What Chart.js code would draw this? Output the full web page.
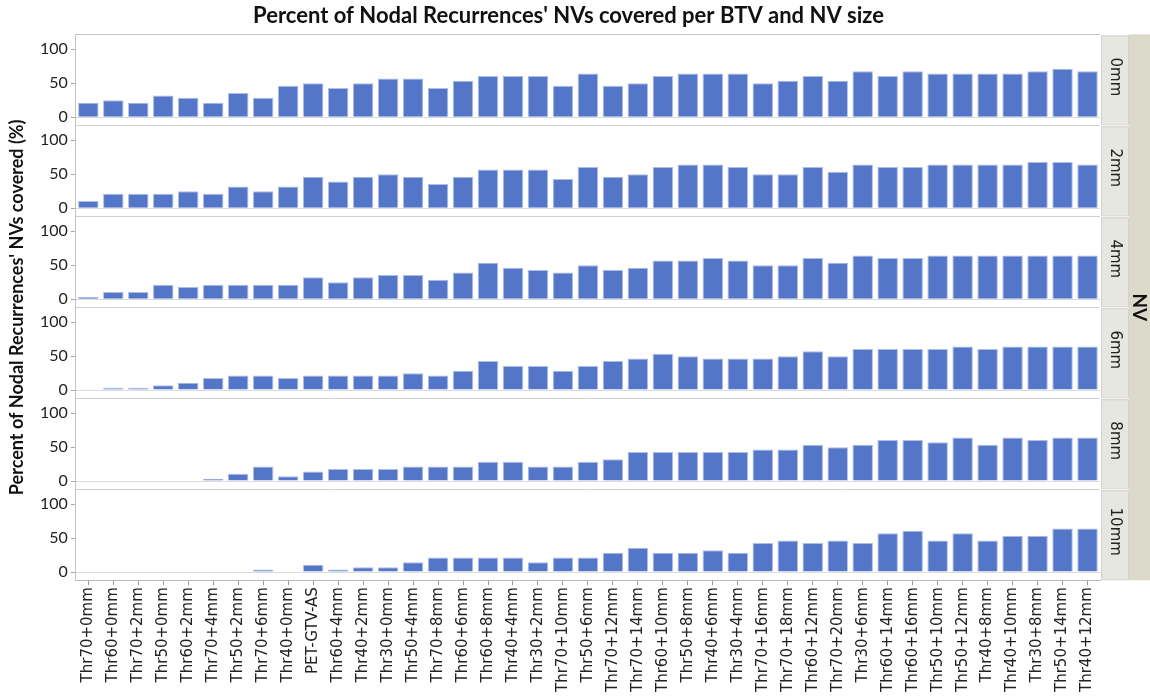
<!DOCTYPE html>
<html>
<head>
<meta charset="utf-8">
<script src="https://cdn.jsdelivr.net/npm/chart.js@4/dist/chart.umd.min.js"></script>
<style>
html,body{margin:0;padding:0;background:#fff;}
#wrap{width:1150px;height:696px;position:relative;}
</style>
</head>
<body>
<div id="wrap"><canvas id="c"></canvas></div>
<script>
const categories = ["Thr70+0mm","Thr60+0mm","Thr70+2mm","Thr50+0mm","Thr60+2mm","Thr70+4mm","Thr50+2mm","Thr70+6mm","Thr40+0mm","PET-GTV-AS","Thr60+4mm","Thr40+2mm","Thr30+0mm","Thr50+4mm","Thr70+8mm","Thr60+6mm","Thr60+8mm","Thr40+4mm","Thr30+2mm","Thr70+10mm","Thr50+6mm","Thr70+12mm","Thr70+14mm","Thr60+10mm","Thr50+8mm","Thr40+6mm","Thr30+4mm","Thr70+16mm","Thr70+18mm","Thr60+12mm","Thr70+20mm","Thr30+6mm","Thr60+14mm","Thr60+16mm","Thr50+10mm","Thr50+12mm","Thr40+8mm","Thr40+10mm","Thr30+8mm","Thr50+14mm","Thr40+12mm"];
const panels = ["0mm","2mm","4mm","6mm","8mm","10mm"];
const nv0mm = [21.4,25,21.4,32.1,28.6,21.4,35.7,28.6,46.4,50,42.9,50,57.1,57.1,42.9,53.6,60.7,60.7,60.7,46.4,64.3,46.4,50,60.7,64.3,64.3,64.3,50,53.6,60.7,53.6,67.9,60.7,67.9,64.3,64.3,64.3,64.3,67.9,71.4,67.9];
const nv2mm = [10.7,21.4,21.4,21.4,25,21.4,32.1,25,32.1,46.4,39.3,46.4,50,46.4,35.7,46.4,57.1,57.1,57.1,42.9,60.7,46.4,50,60.7,64.3,64.3,60.7,50,50,60.7,53.6,64.3,60.7,60.7,64.3,64.3,64.3,64.3,67.9,67.9,64.3];
const nv4mm = [3.6,10.7,10.7,21.4,17.9,21.4,21.4,21.4,21.4,32.1,25,32.1,35.7,35.7,28.6,39.3,53.6,46.4,42.9,39.3,50,42.9,46.4,57.1,57.1,60.7,57.1,50,50,60.7,53.6,64.3,60.7,60.7,64.3,64.3,64.3,64.3,64.3,64.3,64.3];
const nv6mm = [0,3.6,3.6,7.1,10.7,17.9,21.4,21.4,17.9,21.4,21.4,21.4,21.4,25,21.4,28.6,42.9,35.7,35.7,28.6,35.7,42.9,46.4,53.6,50,46.4,46.4,46.4,50,57.1,50,60.7,60.7,60.7,60.7,64.3,60.7,64.3,64.3,64.3,64.3];
const nv8mm = [0,0,0,0,0,3.6,10.7,21.4,7.1,14.3,17.9,17.9,17.9,21.4,21.4,21.4,28.6,28.6,21.4,21.4,28.6,32.1,42.9,42.9,42.9,42.9,42.9,46.4,46.4,53.6,50,53.6,60.7,60.7,57.1,64.3,53.6,64.3,60.7,64.3,64.3];
const nv10mm = [0,0,0,0,0,0,0,3.6,0,10.7,3.6,7.1,7.1,14.3,21.4,21.4,21.4,21.4,14.3,21.4,21.4,28.6,35.7,28.6,28.6,32.1,28.6,42.9,46.4,42.9,46.4,42.9,57.1,60.7,46.4,57.1,46.4,53.6,53.6,64.3,64.3];
const yTicks = [0,25,50,75,100];
const yLabels = [0,50,100];
const titleText = "Percent of Nodal Recurrences' NVs covered per BTV and NV size";
const yTitleText = "Percent of Nodal Recurrences' NVs covered (%)";
const stripTitle = "NV";

const series = [nv0mm,nv2mm,nv4mm,nv6mm,nv8mm,nv10mm];

const datasets = series.map((d,i)=>({
  label: panels[i],
  data: d,
  yAxisID: 'y'+i,
  grouped: false,
  backgroundColor: '#5476c8',
  borderColor: '#aebde8',
  borderWidth: 1,
  barPercentage: 0.82,
  categoryPercentage: 1.0
}));

const scales = {
  x: {
    type: 'category',
    offset: true,
    grid: {drawOnChartArea: false, offset: false, tickLength: 5, color: '#999', tickColor:'#999'},
    border: {color: '#bbb'},
    ticks: {
      autoSkip: false, maxRotation: 90, minRotation: 90, padding: 2,
      color: '#222', font: {family: 'DejaVu Sans', size: 15}
    }
  }
};
for (let i = panels.length - 1; i >= 0; i--) {
  scales['y'+i] = {
    type: 'linear',
    position: 'left',
    stack: 'nv',
    stackWeight: 1,
    min: -12,
    max: 122,
    afterBuildTicks: ax => { ax.ticks = yTicks.map(v => ({value: v})); },
    ticks: {
      color: '#222', padding: 3,
      font: {family: 'Lato', size: 16},
      callback: v => yLabels.includes(v) ? String(v) : ''
    },
    grid: {
      drawOnChartArea: true,
      color: c => (c.tick && c.tick.value === 0) ? '#dcdcdc' : 'rgba(0,0,0,0)',
      tickColor: '#aaa',
      tickLength: 5
    },
    border: {color: '#c4c4c4'}
  };
}

const decor = {
  id: 'decor',
  beforeDatasetsDraw(chart) {
    const {ctx, chartArea: a} = chart;
    ctx.save();
    ctx.strokeStyle = '#cfcfcf';
    ctx.lineWidth = 1;
    panels.forEach((p,i) => {
      const ax = chart.scales['y'+i];
      ctx.beginPath();
      ctx.moveTo(a.left, Math.round(ax.top)+0.5);
      ctx.lineTo(a.right, Math.round(ax.top)+0.5);
      ctx.stroke();
    });
    ctx.restore();
  },
  afterDraw(chart) {
    const {ctx, chartArea: a} = chart;
    ctx.save();
    const ox = a.right + 29;
    ctx.fillStyle = '#dbd9c9';
    ctx.fillRect(ox, a.top, chart.width - ox, a.bottom - a.top);
    panels.forEach((p,i) => {
      const ax = chart.scales['y'+i];
      ctx.fillStyle = '#e7e7e1';
      ctx.fillRect(a.right + 1, ax.top + 1, 27, ax.bottom - ax.top - 2);
      ctx.strokeStyle = '#d2d2ca';
      ctx.strokeRect(a.right + 1.5, ax.top + 1.5, 27, ax.bottom - ax.top - 2);
      ctx.save();
      ctx.translate(a.right + 15, (ax.top + ax.bottom) / 2 - 3);
      ctx.rotate(Math.PI / 2);
      ctx.fillStyle = '#222';
      ctx.font = '15px "DejaVu Sans"';
      ctx.textAlign = 'center';
      ctx.textBaseline = 'middle';
      ctx.fillText(p, 0, 0);
      ctx.restore();
    });
    ctx.save();
    ctx.translate(ox + 10, (a.top + a.bottom) / 2);
    ctx.rotate(Math.PI / 2);
    ctx.fillStyle = '#111';
    ctx.font = 'bold 19px Lato';
    ctx.textAlign = 'center';
    ctx.textBaseline = 'middle';
    ctx.fillText(stripTitle, 0, 0);
    ctx.restore();
    ctx.strokeStyle = '#c4c4c4';
    ctx.beginPath();
    ctx.moveTo(a.left, Math.round(a.top)+0.5);
    ctx.lineTo(a.right, Math.round(a.top)+0.5);
    ctx.stroke();
    ctx.save();
    ctx.translate(17, (a.top + a.bottom) / 2);
    ctx.rotate(-Math.PI / 2);
    ctx.fillStyle = '#111';
    ctx.font = 'bold 18px Lato';
    ctx.textAlign = 'center';
    ctx.textBaseline = 'middle';
    ctx.fillText(yTitleText, 0, 0);
    ctx.restore();
    ctx.restore();
  }
};

new Chart(document.getElementById('c'), {
  type: 'bar',
  data: {labels: categories, datasets},
  options: {
    responsive: true,
    maintainAspectRatio: false,
    animation: false,
    layout: {padding: {left: 37, right: 50, top: 0, bottom: 2}},
    plugins: {
      legend: {display: false},
      tooltip: {enabled: false},
      title: {
        display: true, text: titleText, color: '#111',
        font: {family: 'Lato', size: 22, weight: 'bold'},
        padding: {top: 3, bottom: 5}
      }
    },
    scales
  },
  plugins: [decor]
});
</script>
</body>
</html>
